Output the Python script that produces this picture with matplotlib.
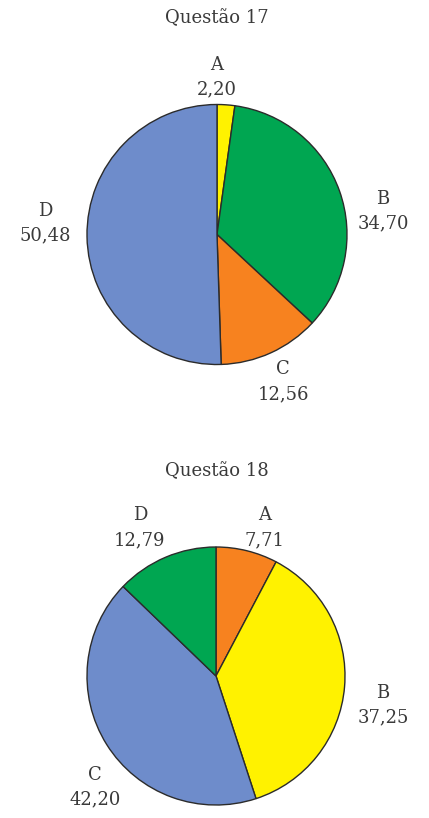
import matplotlib.pyplot as plt

W, H = 429, 818

labels = ['A', 'B', 'C', 'D']

q17_values = [2.20, 34.70, 12.56, 50.48]
q17_colors = ['#fff200', '#00a651', '#f7821f', '#6e8ccb']

q18_values = [7.71, 37.25, 42.20, 12.79]
q18_colors = ['#f7821f', '#fff200', '#6e8ccb', '#00a651']

plt.rcParams['font.family'] = ['DejaVu Serif']

fig = plt.figure(figsize=(W / 100, H / 100), dpi=100)
ax = fig.add_axes([0, 0, 1, 1])

def fmt(v):
    return f'{v:.2f}'.replace('.', ',')

def y(py):
    # pixel rows counted from the top
    return H - py

def draw_pie(values, colors, cx, cy, r):
    ax.pie(values, colors=colors, startangle=90, counterclock=False,
           center=(cx, y(cy)), radius=r, frame=True,
           wedgeprops=dict(edgecolor='#2b2b2b', linewidth=1.0))

draw_pie(q17_values, q17_colors, 217, 234.5, 130)
draw_pie(q18_values, q18_colors, 216, 676, 129)

txt = dict(ha='center', va='center', fontsize=13, color='#3a3a3a', linespacing=1.5)

ax.text(217, y(18), 'Questão 17', **txt)
q17_pos = [(217, 77), (383, 211), (283, 382), (45, 223)]
for lab, v, (px, py) in zip(labels, q17_values, q17_pos):
    ax.text(px, y(py), f'{lab}\n{fmt(v)}', **txt)

ax.text(217, y(471), 'Questão 18', **txt)
q18_pos = [(265, 528), (383, 705), (95, 787), (140, 528)]
for lab, v, (px, py) in zip(labels, q18_values, q18_pos):
    ax.text(px, y(py), f'{lab}\n{fmt(v)}', **txt)

ax.set_xlim(0, W)
ax.set_ylim(0, H)
ax.set_aspect('auto')
ax.axis('off')

fig.savefig('out.png', dpi=100)
